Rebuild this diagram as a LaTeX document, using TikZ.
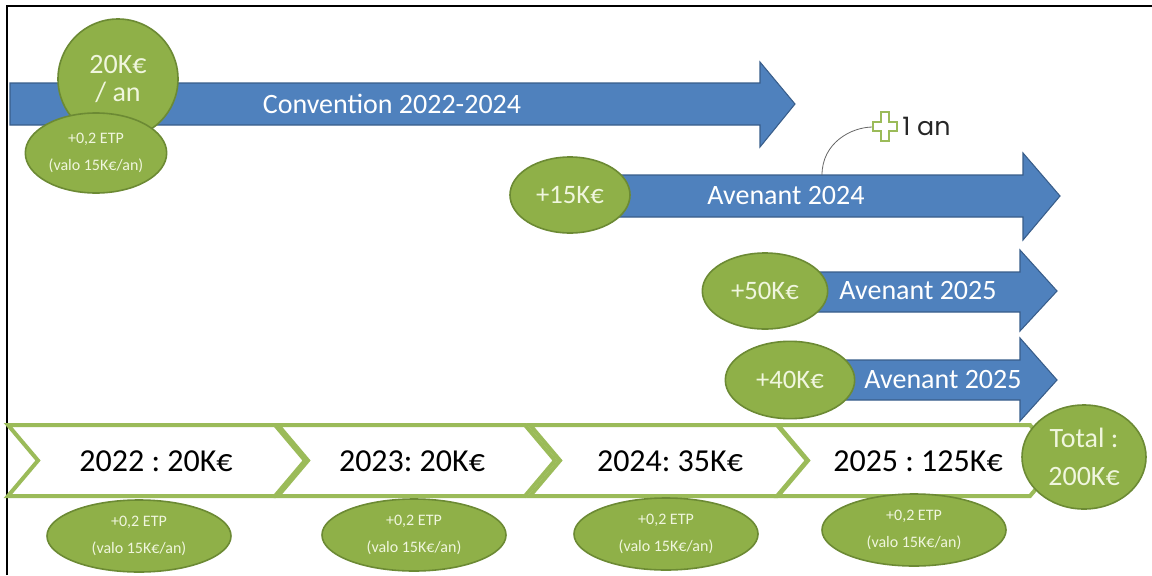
\documentclass[tikz,border=0pt]{standalone}
\usepackage{fontspec}
\setmainfont{Carlito}
\newfontfamily\gothic{Poppins}
\usetikzlibrary{shapes.geometric}
\definecolor{bleu}{RGB}{79,129,189}
\definecolor{bleufonce}{RGB}{56,93,138}
\definecolor{vert}{RGB}{143,176,72}
\definecolor{vertfonce}{RGB}{108,138,52}
\definecolor{vertclair}{RGB}{240,246,222}
\definecolor{vertbord}{RGB}{155,187,89}
\tikzset{
  fleche/.style={draw=bleufonce, fill=bleu, line width=0.8pt, line join=miter},
  bulle/.style={ellipse, draw=vertfonce, fill=vert, line width=1.2pt, inner sep=0pt, text=vertclair, align=center},
  etape/.style={draw=vertbord, fill=white, line width=3pt, line join=miter},
  grand/.style={font=\fontsize{21}{21}\selectfont},
  petit/.style={font=\fontsize{12}{20}\selectfont}
}
\frenchspacing

\begin{document}
\begin{tikzpicture}[x=0.75pt, y=-0.75pt]
\useasboundingbox (0,0) rectangle (1152,575);
\draw[black, line width=1.2pt] (7,575) -- (7,6) -- (1152,6);
\draw[fleche] (10,83) -- (760,83) -- (760,62) -- (795,104) -- (760,147) -- (760,125) -- (10,125) -- cycle;
\draw[fleche] (600,175) -- (1023,175) -- (1023,153) -- (1060,196) -- (1023,240) -- (1023,217) -- (600,217) -- cycle;
\draw[fleche] (800,272) -- (1020,272) -- (1020,250) -- (1057,291) -- (1020,331) -- (1020,312) -- (800,312) -- cycle;
\draw[fleche] (840,360) -- (1020,360) -- (1020,338) -- (1057,380) -- (1020,421) -- (1020,400) -- (840,400) -- cycle;
\node[grand, text=white] (conv) at (392,104) {Convention 2022-2024};
\node[grand, text=white] (av24) at (786,196) {Avenant 2024};
\node[grand, text=white] (av25a) at (918,291) {Avenant 2025};
\node[grand, text=white] (av25b) at (943,380) {Avenant 2025};
\coordinate (pied) at (822,175);
\coordinate (croixg) at (873,127);
\draw[black!60, line width=0.6pt] (pied) .. controls +(0,-32) and +(-22,0) .. (croixg);
\draw[draw=vertbord, fill=white, line width=1.8pt] (881,112) -- (889,112) -- (889,122) -- (897,122) -- (897,131) -- (889,131) -- (889,141) -- (881,141) -- (881,131) -- (873,131) -- (873,122) -- (881,122) -- cycle;
\node[anchor=west, inner sep=0pt, text=black!85, font=\gothic\fontsize{19}{19}\selectfont] (duree) at (902,126) {1 an};
\foreach \l/\r in {8/275, 278/525, 530/777, 778/1030}
  \draw[etape] (\l,425) -- (\r,425) -- (\r+30,460.5) -- (\r,496) -- (\l,496) -- (\l+30,460.5) -- cycle;
\foreach \x/\t [count=\i] in {156/2022 : 20K€, 412/2023: 20K€, 670/2024: 35K€, 918/2025 : 125K€}
  \node[font=\fontsize{24}{24}\selectfont] (annee\i) at (\x,461) {\t};
\node[bulle, circle, minimum size=90pt, grand] (rythme) at (118,79) {20K€\\/ an};
\node[bulle, minimum width=106pt, minimum height=60pt, petit] (etp0) at (96,153) {+0,2 ETP\\(valo 15K€/an)};
\node[bulle, minimum width=90pt, minimum height=57pt, font=\fontsize{20}{20}\selectfont] (plus15) at (570,195) {+15K€};
\node[bulle, minimum width=94pt, minimum height=57pt, font=\fontsize{20}{20}\selectfont] (plus50) at (765,291) {+50K€};
\node[bulle, minimum width=97pt, minimum height=58pt, font=\fontsize{20}{20}\selectfont] (plus40) at (790,380) {+40K€};
\foreach \x/\y [count=\i] in {139/536, 414/535, 666/534, 914/530}
  \node[bulle, minimum width=138pt, minimum height=54pt, petit] (etp\i) at (\x,\y) {+0,2 ETP\\(valo 15K€/an)};
\node[bulle, minimum width=93pt, minimum height=78pt, font=\fontsize{21}{28}\selectfont] (total) at (1084,457) {Total :\\200K€};
\end{tikzpicture}
\end{document}
